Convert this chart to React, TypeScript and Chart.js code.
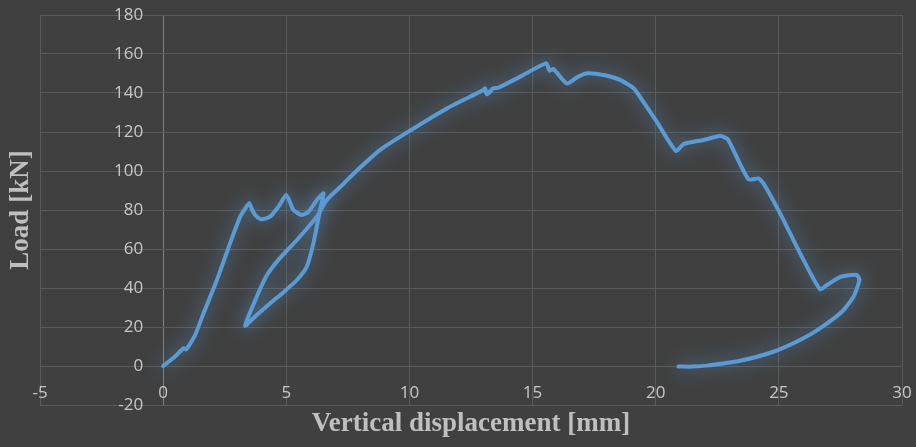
import React, { useEffect, useRef } from "react";
import { Chart, registerables } from "chart.js";

Chart.register(...registerables);

// Displacement [mm]
const dispMm: number[] = [
  0, 0.45, 0.83, 0.93, 1.1, 1.3, 1.64, 2.18, 2.72, 3.13, 3.4, 3.5, 3.62, 3.74, 4.0, 4.34, 4.68, 5.0, 5.15, 5.29,
  5.63, 5.9, 6.24, 6.51,
  6.37, 6.1, 5.83, 5.43, 4.9, 4.34, 3.8, 3.33,
  3.8, 4.21, 4.68, 5.43, 6.24, 6.64, 7.19, 7.73, 8.81, 9.96, 11.52, 12.46, 13.0, 13.07, 13.14, 13.41, 13.61,
  14.5, 15.55, 15.69, 15.85, 16.39, 16.8, 17.2, 17.88, 18.55, 19.1, 19.5, 20.04, 20.82, 21.13, 21.94, 22.61,
  22.82, 22.95, 23.77, 24.17, 24.37, 25.05, 25.86, 26.67, 26.95, 27.52, 28.16, 28.27, 28.03, 27.56, 26.67,
  25.86, 24.78, 23.43, 22.07, 21.53, 20.92,
];

// Load [kN]
const loadKn: number[] = [
  0, 4.5, 9.1, 8.5, 11.5, 15.9, 27, 44, 63, 76.6, 82, 83.4, 80, 77.4, 75.2, 76.6, 81.7, 87.7, 84, 80,
  77.4, 79.1, 85.1, 88.5,
  80, 62.9, 50.9, 44.1, 38, 32.1, 26.2, 20.7,
  35.5, 46.5, 54.4, 64.6, 76.6, 85.1, 91.8, 98.6, 110.8, 120.2, 132.1, 138.1, 141.5, 142.4, 139.3, 142.4, 142.7,
  148.4, 155.2, 151.4, 152.3, 144.9, 148, 150.1, 149.2, 146.7, 142.4, 135.5, 125.3, 110.3, 113.8, 115.9, 117.9,
  117.1, 115.9, 95.7, 96.2, 93.7, 78.3, 57.8, 39.3, 41.5, 45.8, 46.7, 44.1, 35.5, 27.8, 19.3,
  13.3, 7.3, 2.7, 0.2, -0.3, -0.3,
];

const xTicks: number[] = [-5, 0, 5, 10, 15, 20, 25, 30];
const yTicks: number[] = [-20, 0, 20, 40, 60, 80, 100, 120, 140, 160, 180];

const xTitle = "Vertical displacement [mm]";
const yTitle = "Load [kN]";

const BG = "#404040";
const LINE = "#5b9bd5";
const GRID = "#5b5b5b";
const AXIS = "#808080";
const TICK_TEXT = "#c8c8c8";
const TITLE_TEXT = "#bfbfbf";

const bgPlugin = {
  id: "bg",
  beforeDraw(chart: any) {
    const { ctx, width, height } = chart;
    ctx.save();
    ctx.fillStyle = BG;
    ctx.fillRect(0, 0, width, height);
    ctx.restore();
  },
};

const tickLabelPlugin = {
  id: "crossTicks",
  beforeDatasetsDraw(chart: any) {
    const { ctx, scales } = chart;
    const x = scales.x;
    const y = scales.y;
    const x0 = x.getPixelForValue(0);
    const y0 = y.getPixelForValue(0);
    ctx.save();
    ctx.font = '17px "Open Sans", "Noto Sans", sans-serif';
    ctx.fillStyle = TICK_TEXT;
    ctx.textAlign = "right";
    ctx.textBaseline = "middle";
    yTicks.forEach((v) => ctx.fillText(String(v), x0 - 20, y.getPixelForValue(v)));
    ctx.textAlign = "center";
    xTicks.forEach((v) => ctx.fillText(String(v), x.getPixelForValue(v), y0 + 27));
    ctx.restore();
  },
};

const glowPlugin = {
  id: "glow",
  beforeDatasetDraw(chart: any) {
    const ctx = chart.ctx;
    ctx.save();
    ctx.shadowColor = "rgba(91,155,213,0.85)";
    ctx.shadowBlur = 18;
  },
  afterDatasetDraw(chart: any) {
    chart.ctx.restore();
  },
};

export default function App() {
  const ref = useRef<HTMLCanvasElement | null>(null);

  useEffect(() => {
    document.body.style.margin = "0";
    document.body.style.overflow = "hidden";
    const canvas = ref.current;
    if (!canvas) return;
    const points = dispMm.map((d, i) => ({ x: d, y: loadKn[i] }));
    const chart = new Chart(canvas, {
      type: "scatter",
      data: {
        datasets: [
          {
            data: points,
            showLine: true,
            borderColor: LINE,
            borderWidth: 4,
            pointRadius: 0,
            tension: 0.2,
            borderCapStyle: "round",
            borderJoinStyle: "round",
            fill: false,
          } as any,
        ],
      },
      options: {
        responsive: false,
        animation: false,
        devicePixelRatio: 1,
        layout: { padding: { top: 15, right: 14, left: 0, bottom: 0 } },
        plugins: { legend: { display: false }, tooltip: { enabled: false } },
        scales: {
          x: {
            type: "linear",
            min: -5,
            max: 30,
            afterBuildTicks: (s: any) => {
              s.ticks = xTicks.map((v) => ({ value: v }));
            },
            afterFit: (s: any) => {
              s.height = 42;
            },
            ticks: { display: false },
            border: { display: false },
            grid: {
              drawTicks: false,
              lineWidth: 1,
              color: (c: any) => (c.tick && c.tick.value === 0 ? AXIS : GRID),
            },
            title: {
              display: true,
              text: xTitle,
              color: TITLE_TEXT,
              font: { family: '"Liberation Serif", "Times New Roman", serif', size: 27, weight: "bold" },
              padding: { top: 0, bottom: 7 },
            },
          },
          y: {
            type: "linear",
            min: -20,
            max: 180,
            afterBuildTicks: (s: any) => {
              s.ticks = yTicks.map((v) => ({ value: v }));
            },
            afterFit: (s: any) => {
              s.width = 40;
            },
            ticks: { display: false },
            border: { display: false },
            grid: { drawTicks: false, lineWidth: 1, color: GRID },
            title: {
              display: true,
              text: yTitle,
              color: TITLE_TEXT,
              font: { family: '"Liberation Serif", "Times New Roman", serif', size: 27, weight: "bold" },
              padding: { top: 5, bottom: 0 },
            },
          },
        },
      } as any,
      plugins: [bgPlugin, tickLabelPlugin, glowPlugin],
    });
    return () => chart.destroy();
  }, []);

  return (
    <div style={{ width: 916, height: 447, background: BG }}>
      <canvas ref={ref} width={916} height={447} style={{ display: "block" }} />
    </div>
  );
}
